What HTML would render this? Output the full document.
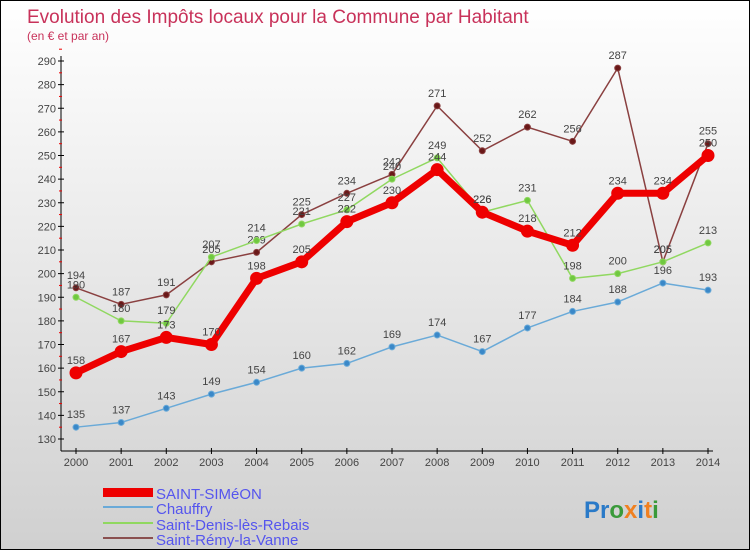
<!DOCTYPE html>
<html><head><meta charset="utf-8"><style>
body{margin:0}
#c{width:748px;height:548px;border:1px solid #000;background:linear-gradient(#fff,#d0d0d0);position:relative;font-family:"Liberation Sans",sans-serif;overflow:hidden}
svg text{font-family:"Liberation Sans",sans-serif}
</style></head><body>
<div id="c">
<svg id="s" width="748" height="548">
<text x="26" y="22" font-size="19" fill="#c8325a">Evolution des Impôts locaux pour la Commune par Habitant</text>
<text x="26" y="39" font-size="12" fill="#c8325a">(en € et par an)</text>
<g id="ax"></g><g id="ser"></g>
<g>
<rect x="102" y="487" width="50" height="9" fill="#e00"/>
<rect x="102" y="505" width="50" height="2" fill="#6aaad8"/>
<rect x="102" y="521" width="50" height="2" fill="#90d860"/>
<rect x="102" y="536" width="50" height="2" fill="#8a5050"/>
<text x="155" y="498" font-size="15" fill="#5555ee">SAINT-SIMéON</text>
<text x="155" y="513" font-size="15" fill="#5555ee">Chauffry</text>
<text x="155" y="529" font-size="15" fill="#5555ee">Saint-Denis-lès-Rebais</text>
<text x="155" y="544" font-size="15" fill="#5555ee">Saint-Rémy-la-Vanne</text>
</g>
<text x="583" y="517" font-size="24" font-weight="bold"><tspan fill="#2a7ac8">Pr</tspan><tspan fill="#3a9a3a">o</tspan><tspan fill="#f08020">x</tspan><tspan fill="#2a7ac8">i</tspan><tspan fill="#f08020">t</tspan><tspan fill="#3a9a3a">i</tspan></text>
</svg></div>
<script>
const years=[2000,2001,2002,2003,2004,2005,2006,2007,2008,2009,2010,2011,2012,2013,2014];
const yTicks=[130,140,150,160,170,180,190,200,210,220,230,240,250,260,270,280,290];
const simeon=[158,167,173,170,198,205,222,230,244,226,218,212,234,234,250];
const chauffry=[135,137,143,149,154,160,162,169,174,167,177,184,188,196,193];
const denis=[190,180,179,207,214,221,227,240,249,226,231,198,200,205,213];
const remy=[194,187,191,205,209,225,234,242,271,252,262,256,287,205,255];
const NS="http://www.w3.org/2000/svg";
const X=i=>75+i*(632/14);
const Y=v=>60+(290-v)*(378/160);
function mk(t,a,p,name){const e=document.createElementNS(NS,t);for(const k in a)e.setAttribute(k,a[k]);


p.appendChild(e);return e;}
const ax=document.getElementById('ax');
mk('line',{x1:60,y1:55,x2:60,y2:450,stroke:'#000','stroke-width':1},ax,'y-axis');
mk('line',{x1:60,y1:450,x2:712,y2:450,stroke:'#000','stroke-width':1},ax,'x-axis');
yTicks.forEach(v=>{mk('line',{x1:57,y1:Y(v),x2:63,y2:Y(v),stroke:'#000'},ax,'y-tick');
const t=mk('text',{x:55,y:Y(v)+4,'font-size':11,fill:'#444','text-anchor':'end'},ax,'y-tick-label');t.textContent=v;
mk('line',{x1:58,y1:Y(v+5),x2:61,y2:Y(v+5),stroke:'#e00'},ax,'y-minor-tick');});
years.forEach((y,i)=>{mk('line',{x1:X(i),y1:447,x2:X(i),y2:453,stroke:'#000'},ax,'x-tick');
const t=mk('text',{x:X(i),y:465,'font-size':11,fill:'#444','text-anchor':'middle'},ax,'x-tick-label');t.textContent=y;});
const ser=document.getElementById('ser');
function draw(d,col,w,r,dot,name){
mk('polyline',{points:d.map((v,i)=>X(i)+','+Y(v)).join(' '),fill:'none',stroke:col,'stroke-width':w,'stroke-linejoin':'round'},ser,name+'-line');
d.forEach((v,i)=>{mk('circle',{cx:X(i),cy:Y(v),r:r,fill:dot,stroke:col,'stroke-width':1},ser,name+'-point');
const t=mk('text',{x:X(i),y:Y(v)-9,'font-size':11,fill:'#444','text-anchor':'middle'},ser,name+'-value');t.textContent=v;});}
draw(remy,'#8a4040',1.5,3,'#6a1818','saint-remy');
draw(denis,'#90d860',1.5,3,'#70c840','saint-denis');
draw(chauffry,'#6aaad8',1.5,3,'#3a88c8','chauffry');
draw(simeon,'#e00',7,6,'#e00','saint-simeon');
</script>
</body></html>
